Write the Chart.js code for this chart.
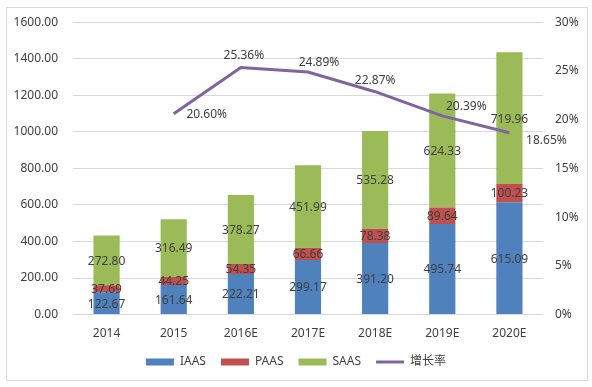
<!DOCTYPE html>
<html>
<head>
<meta charset="utf-8">
<script src="https://cdn.jsdelivr.net/npm/chart.js@4.4.0/dist/chart.umd.min.js"></script>
<style>
  html, body { margin: 0; padding: 0; background: #fff; }
  #wrap { width: 592px; height: 387px; }
</style>
</head>
<body>
<div id="wrap"><canvas id="cloud"></canvas></div>
<script>
const years = ['2014', '2015', '2016E', '2017E', '2018E', '2019E', '2020E'];
const iaas = [122.67, 161.64, 222.21, 299.17, 391.20, 495.74, 615.09];
const paas = [37.69, 44.25, 54.35, 66.66, 78.38, 89.64, 100.23];
const saas = [272.80, 316.49, 378.27, 451.99, 535.28, 624.33, 719.96];
const growth = [null, 20.60, 25.36, 24.89, 22.87, 20.39, 18.65];

const FONT = "'Noto Sans', 'Noto Sans CJK SC', sans-serif";
const TEXT = '#404040';
const GRID = '#d9d9d9';

// where each growth label sits relative to its point
const lineLabelOffsets = [null, [33, 1], [3, -12], [11, -9], [0, -11], [24, -9], [37, 8]];

const frame = {
  id: 'frame',
  beforeDraw(chart) {
    const c = chart.ctx;
    c.save();
    c.fillStyle = '#fff';
    c.fillRect(0, 0, chart.width, chart.height);
    c.strokeStyle = '#d9d9d9';
    c.lineWidth = 1;
    c.strokeRect(6.5, 7.5, 581, 373);
    c.restore();
  }
};

const valueLabels = {
  id: 'valueLabels',
  afterDatasetsDraw(chart) {
    const c = chart.ctx;
    c.save();
    c.font = '12px ' + FONT;
    c.fillStyle = TEXT;
    c.textAlign = 'center';
    c.textBaseline = 'middle';
    chart.data.datasets.forEach((ds, i) => {
      const meta = chart.getDatasetMeta(i);
      meta.data.forEach((el, j) => {
        const v = ds.data[j];
        if (v == null) return;
        if (ds.type === 'line') {
          const off = lineLabelOffsets[j];
          c.fillText(v.toFixed(2) + '%', el.x + off[0], el.y + off[1]);
        } else {
          const p = el.getProps(['x', 'y', 'base'], true);
          c.fillText(v.toFixed(2), p.x, (p.y + p.base) / 2 + 1);
        }
      });
    });
    c.restore();
  }
};

new Chart(document.getElementById('cloud'), {
  data: {
    labels: years,
    datasets: [
      { type: 'bar', label: 'IAAS', data: iaas, backgroundColor: '#4f81bd', yAxisID: 'y', order: 1 },
      { type: 'bar', label: 'PAAS', data: paas, backgroundColor: '#c0504d', yAxisID: 'y', order: 1 },
      { type: 'bar', label: 'SAAS', data: saas, backgroundColor: '#9bbb59', yAxisID: 'y', order: 1 },
      { type: 'line', label: '增长率', data: growth, borderColor: '#8064a2', backgroundColor: '#8064a2',
        borderWidth: 3, pointRadius: 0, tension: 0, yAxisID: 'y1', order: 0 }
    ]
  },
  options: {
    responsive: true,
    maintainAspectRatio: false,
    animation: false,
    layout: { padding: { top: 19, bottom: 9, left: 0, right: 0 } },
    datasets: { bar: { categoryPercentage: 1, barPercentage: 0.39 } },
    scales: {
      x: {
        stacked: true,
        afterFit(s) { s.height -= 4; },
        grid: { display: false },
        border: { display: false },
        ticks: { color: TEXT, font: { family: FONT, size: 12 }, padding: 4 }
      },
      y: {
        stacked: true,
        min: 0, max: 1600,
        afterFit(s) { s.width = 73; },
        grid: { color: GRID, drawTicks: false },
        border: { display: false },
        ticks: { stepSize: 200, padding: 15, color: TEXT, font: { family: FONT, size: 12 },
          callback: v => v.toFixed(2) }
      },
      y1: {
        position: 'right',
        min: 0, max: 30,
        afterFit(s) { s.width = 49; },
        grid: { display: false, drawTicks: false },
        border: { display: false },
        ticks: { stepSize: 5, padding: 12, color: TEXT, font: { family: FONT, size: 12 },
          callback: v => v + '%' }
      }
    },
    plugins: {
      tooltip: { enabled: false },
      legend: {
        position: 'bottom',
        labels: {
          color: TEXT,
          font: { family: FONT, size: 12 },
          usePointStyle: true,
          pointStyleWidth: 28,
          boxHeight: 7,
          padding: 15,
          sort: (a, b) => a.datasetIndex - b.datasetIndex,
          generateLabels(chart) {
            const items = Chart.defaults.plugins.legend.labels.generateLabels(chart);
            items.forEach(it => {
              const ds = chart.data.datasets[it.datasetIndex];
              if (ds.type === 'line') {
                it.pointStyle = 'line';
                it.lineWidth = 3;
                it.strokeStyle = ds.borderColor;
              } else {
                it.pointStyle = 'rect';
                it.lineWidth = 0;
              }
            });
            return items;
          }
        }
      }
    }
  },
  plugins: [frame, valueLabels]
});
</script>
</body>
</html>
